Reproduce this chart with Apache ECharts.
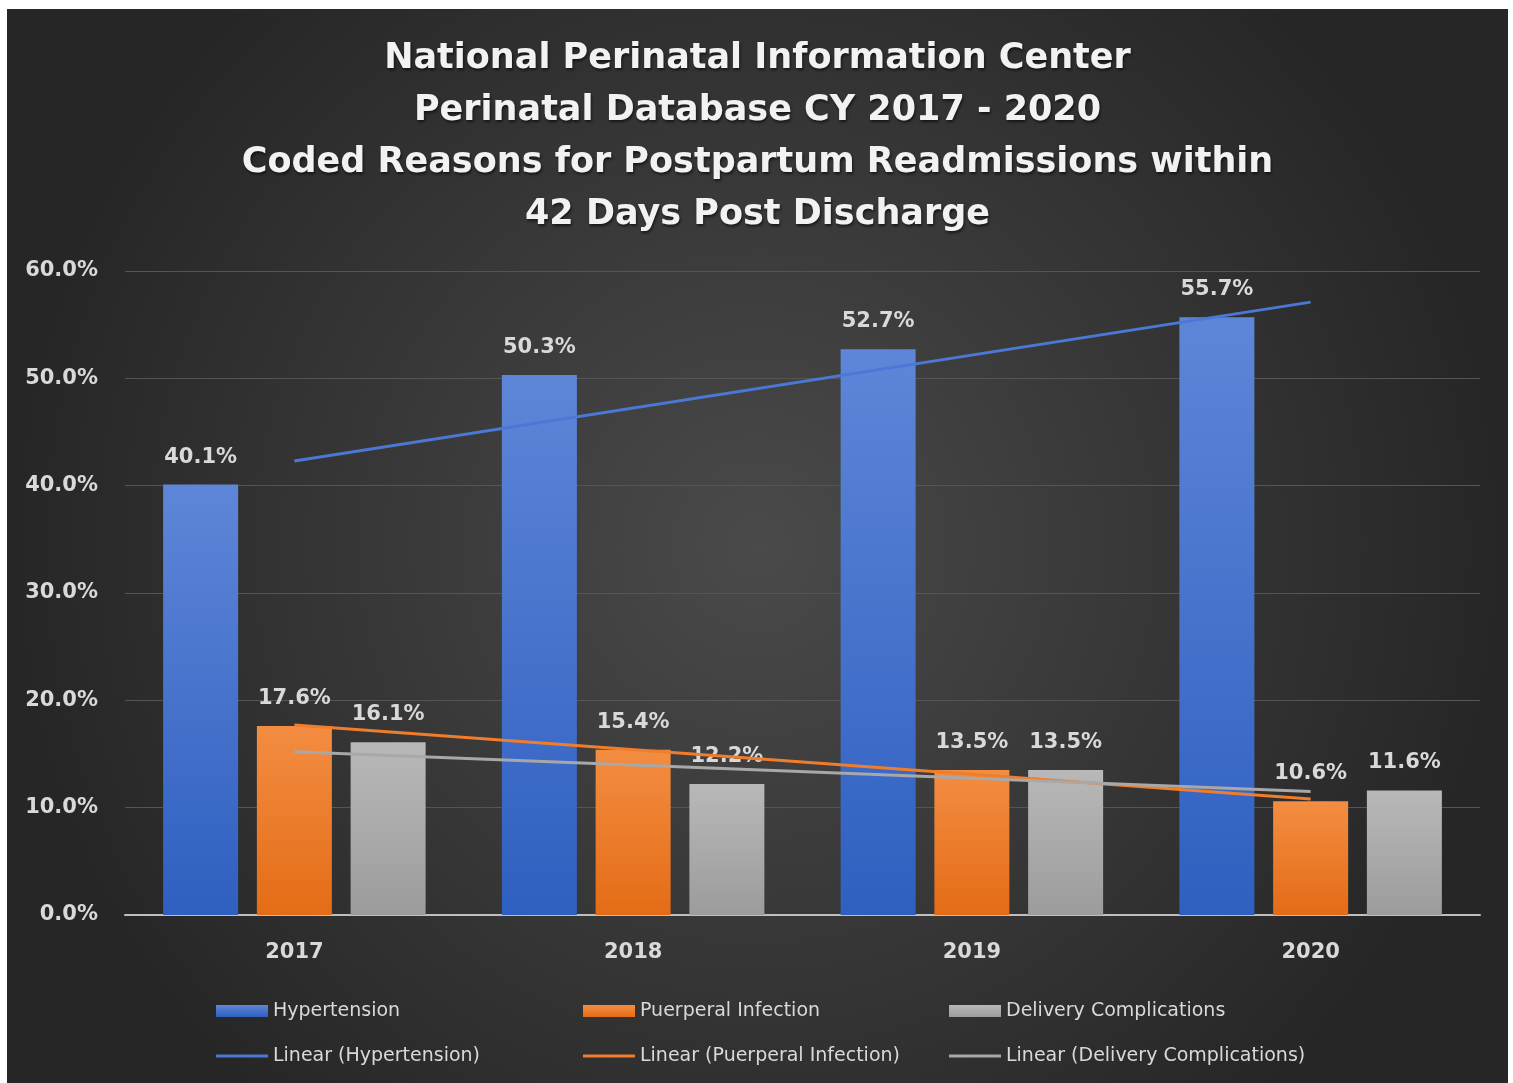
<!DOCTYPE html>
<html>
<head>
<meta charset="utf-8">
<script src="https://cdn.jsdelivr.net/npm/echarts@6/dist/echarts.min.js"></script>
<style>
  html, body { margin: 0; padding: 0; background: #ffffff; }
  #chart { position: absolute; left: 7px; top: 9px; width: 1501px; height: 1074px; }
</style>
</head>
<body>
<div id="chart"></div>
<script>
// data
const years = ['2017', '2018', '2019', '2020'];
const hypertension = [40.1, 50.3, 52.7, 55.7];
const puerperal = [17.6, 15.4, 13.5, 10.6];
const delivery = [16.1, 12.2, 13.5, 11.6];
// trendline end points (first and last year)
const trendHyp = [42.3, null, null, 57.1];
const trendPue = [17.7, null, null, 10.8];
const trendDel = [15.2, null, null, 11.5];
const yTicks = [0, 10, 20, 30, 40, 50, 60];

const FONT = '"DejaVu Sans", sans-serif';
const LABEL = '#d9d9d9';
const LINE_ICON = 'path://M0,0h60v3.5h-60z';

const grad = (top, bottom) => new echarts.graphic.LinearGradient(0, 0, 0, 1, [
  { offset: 0, color: top },
  { offset: 1, color: bottom }
]);

const barLabel = {
  show: true,
  position: 'top',
  distance: 17,
  color: LABEL,
  fontFamily: FONT,
  fontSize: 21,
  fontWeight: 'bold',
  formatter: p => p.value.toFixed(1) + '%'
};

const barSeries = (name, data, top, bottom) => ({
  name: name,
  type: 'bar',
  data: data,
  barWidth: 75,
  barGap: '25%',
  itemStyle: { color: grad(top, bottom) },
  label: barLabel
});

const trendSeries = (name, data, color) => ({
  name: name,
  type: 'line',
  data: data,
  connectNulls: true,
  symbol: 'none',
  silent: true,
  z: 3,
  lineStyle: { color: color, width: 3 },
  itemStyle: { color: color }
});

const legendCol = (left, names) => ({
  orient: 'vertical',
  left: left,
  top: 990,
  padding: 0,
  itemGap: 21,
  itemWidth: 52,
  itemHeight: 12,
  icon: 'rect',
  data: names,
  textStyle: { color: LABEL, fontFamily: FONT, fontSize: 19, lineHeight: 24 }
});

const chart = echarts.init(document.getElementById('chart'));
chart.setOption({
  backgroundColor: new echarts.graphic.RadialGradient(0.5, 0.5, 0.7, [
    { offset: 0, color: '#4a4a4a' },
    { offset: 1, color: '#262626' }
  ]),
  animation: false,
  title: {
    text: 'National Perinatal Information Center\nPerinatal Database CY 2017 - 2020\nCoded Reasons for Postpartum Readmissions within\n42 Days Post Discharge',
    left: 'center',
    top: 19,
    textStyle: {
      color: '#f2f2f2',
      fontFamily: FONT,
      fontSize: 35,
      fontWeight: 'bold',
      lineHeight: 52,
      textShadowColor: 'rgba(0,0,0,0.6)',
      textShadowBlur: 3,
      textShadowOffsetX: 1,
      textShadowOffsetY: 2
    }
  },
  legend: [
    legendCol(209, ['Hypertension', { name: 'Linear (Hypertension)', icon: LINE_ICON }]),
    legendCol(576, ['Puerperal Infection', { name: 'Linear (Puerperal Infection)', icon: LINE_ICON }]),
    legendCol(942, ['Delivery Complications', { name: 'Linear (Delivery Complications)', icon: LINE_ICON }])
  ],
  grid: { left: 118, right: 28, top: 262, bottom: 168 },
  xAxis: {
    type: 'category',
    data: years,
    axisTick: { show: false },
    axisLine: { lineStyle: { color: '#bfbfbf', width: 2 } },
    axisLabel: { color: LABEL, fontFamily: FONT, fontSize: 21, fontWeight: 'bold', margin: 27 }
  },
  yAxis: {
    type: 'value',
    min: yTicks[0],
    max: yTicks[yTicks.length - 1],
    interval: 10,
    axisLine: { show: false },
    axisTick: { show: false },
    splitLine: { lineStyle: { color: '#555555', width: 1 } },
    axisLabel: {
      color: LABEL, fontFamily: FONT, fontSize: 21, fontWeight: 'bold', margin: 27,
      formatter: v => v.toFixed(1) + '%'
    }
  },
  series: [
    barSeries('Hypertension', hypertension, '#5e86d8', '#2f5fc0'),
    barSeries('Puerperal Infection', puerperal, '#f38d42', '#e46c16'),
    barSeries('Delivery Complications', delivery, '#b8b8b8', '#9c9c9c'),
    trendSeries('Linear (Hypertension)', trendHyp, '#4a78d4'),
    trendSeries('Linear (Puerperal Infection)', trendPue, '#ef7d2c'),
    trendSeries('Linear (Delivery Complications)', trendDel, '#a8a8a8')
  ]
});
</script>
</body>
</html>
